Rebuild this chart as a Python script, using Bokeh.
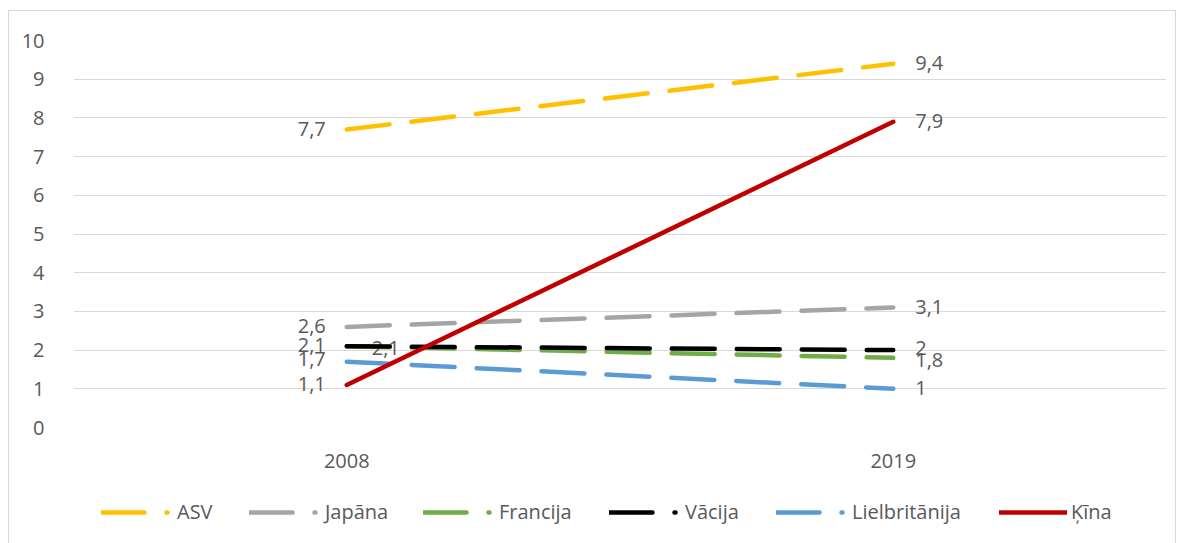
from bokeh.plotting import figure
from bokeh.layouts import column
from bokeh.models import ColumnDataSource, FactorRange, Range1d, Legend, LegendItem, FixedTicker
from bokeh.core.properties import value
from bokeh.embed import file_html
from bokeh.resources import INLINE

# ---- data ----
years = ["2008", "2019"]
series_names = ["ASV", "Japāna", "Francija", "Vācija", "Lielbritānija", "Ķīna"]
asv = [7.7, 9.4]
japana = [2.6, 3.1]
francija = [2.1, 1.8]
vacija = [2.1, 2.0]
lielbritanija = [1.7, 1.0]
kina = [1.1, 7.9]
y_ticks = [0, 1, 2, 3, 4, 5, 6, 7, 8, 9, 10]

series_values = [asv, japana, francija, vacija, lielbritanija, kina]

# ---- styles ----
colors = ["#FFC000", "#A5A5A5", "#70AD47", "#000000", "#5B9BD5", "#C00000"]
dashes = ["43 22", "43 22", "43 22", "43 22", "43 22", "solid"]
# label placement per point: (align, x_offset, y_offset)
label_pos = [
    [("right", -21, -1), ("left", 22, -1)],
    [("right", -21, -1), ("left", 22, -1)],
    [("left", 25, 2), ("left", 22, 2)],
    [("right", -21, -1), ("left", 22, -2)],
    [("right", -21, -3), ("left", 22, -1)],
    [("right", -21, -1), ("left", 22, -1)],
]
legend_x = [100, 248, 422, 608, 775, 998]  # page x of each legend glyph start

FONT = "Open Sans"
TXT = "#595959"
GRID = "#D9D9D9"
BORDER = "1px solid #D9D9D9"

W = 1168
p = figure(width=W, height=475, x_range=FactorRange(*years, range_padding=0),
           y_range=Range1d(0, 10), output_backend="svg", toolbar_location=None,
           min_border_left=64, min_border_right=11, min_border_top=29, min_border_bottom=59)
p.outline_line_color = None
p.styles = {"border-left": BORDER, "border-top": BORDER, "border-right": BORDER,
            "box-sizing": "border-box", "margin-left": "8px", "margin-top": "10px"}

p.xgrid.grid_line_color = None
p.ygrid.grid_line_color = GRID
p.ygrid.grid_line_width = 1
p.yaxis.ticker = FixedTicker(ticks=y_ticks)
for ax in (p.xaxis, p.yaxis):
    ax.axis_line_color = None
    ax.major_tick_line_color = None
    ax.minor_tick_line_color = None
    ax.major_label_text_font = FONT
    ax.major_label_text_font_size = "20px"
    ax.major_label_text_color = TXT
p.yaxis.major_label_standoff = 23
p.xaxis.major_label_standoff = 20

# legend strip below the chart (its frame is aligned with the chart's frame)
pl = figure(width=W, height=58, x_range=Range1d(0, 1), y_range=Range1d(0, 1),
            output_backend="svg", toolbar_location=None,
            min_border_left=0, min_border_right=0, min_border_top=0, min_border_bottom=0)
pl.outline_line_color = None
pl.axis.visible = False
pl.grid.visible = False
pl.styles = {"border-left": BORDER, "border-right": BORDER,
             "box-sizing": "border-box", "margin-left": "8px"}
FRAME_LEFT_PAGE = 72

for name, vals, col, dash, lp, lx in zip(series_names, series_values, colors, dashes,
                                         label_pos, legend_x):
    src = ColumnDataSource(dict(x=years, y=vals))
    p.line("x", "y", source=src, line_color=col, line_width=4.5, line_dash=dash, line_cap="round")
    for i, (yr, v) in enumerate(zip(years, vals)):
        al, xo, yo = lp[i]
        s = ColumnDataSource(dict(x=[yr], y=[v], t=[f"{v:g}".replace(".", ",")]))
        p.text("x", "y", text="t", source=s, text_align=al, text_baseline="middle",
               x_offset=xo, y_offset=yo, text_font=value(FONT), text_font_size="20px",
               text_color=TXT)
    # legend glyph (dash + dot, like the original legend)
    ldash = "solid" if dash == "solid" else "43 22 1 200"
    r = pl.line(x=[0.5], y=[float("nan")], line_color=col, line_width=4.5,
                line_dash=ldash, line_cap="round")
    gw = 68 if dash == "solid" else 70
    lg = Legend(items=[LegendItem(label=name, renderers=[r])],
                location=(lx - FRAME_LEFT_PAGE, 18), orientation="horizontal",
                padding=0, margin=0, spacing=0, border_line_alpha=0, background_fill_alpha=0,
                glyph_width=gw, glyph_height=20, label_standoff=6 if dash != "solid" else 4,
                label_text_font=FONT, label_text_font_size="20px", label_text_color=TXT,
                label_height=20)
    pl.add_layout(lg)

layout = column(p, pl, spacing=0)
open("out.html", "w").write(file_html(layout, INLINE))
